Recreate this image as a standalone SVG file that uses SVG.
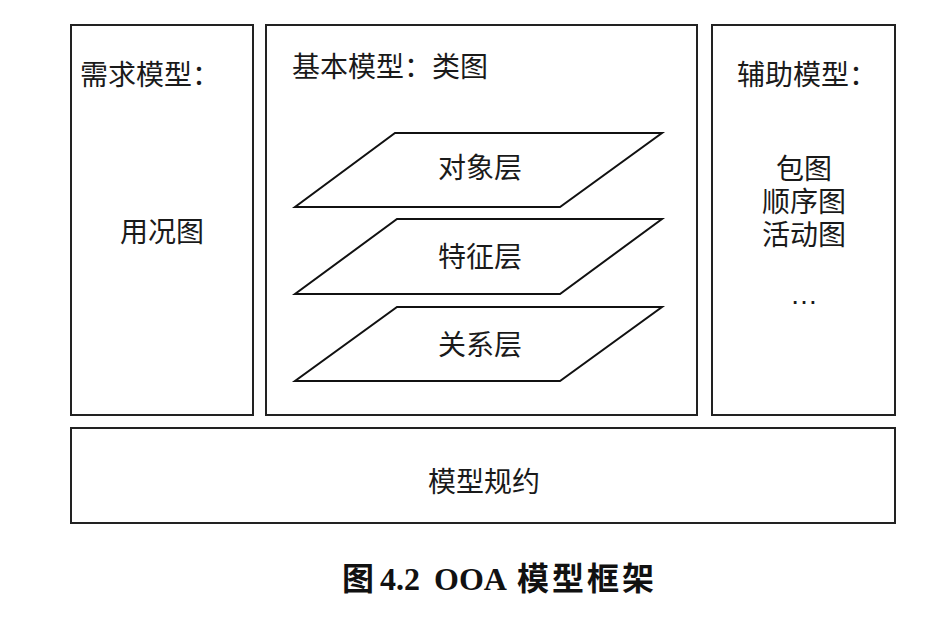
<svg xmlns="http://www.w3.org/2000/svg" width="946" height="621" viewBox="0 0 946 621">
<style>
.box{fill:#fff;stroke:#222;stroke-width:2}
.layer{fill:#fff;stroke:#111;stroke-width:2;stroke-linejoin:miter}
.t{font-family:"Liberation Sans","Noto Sans CJK SC","Noto Sans CJK JP",sans-serif;font-size:28px;fill:#1a1a1a}
.c{text-anchor:middle}
.cap{font-family:"Liberation Serif","Noto Sans CJK SC",serif;font-weight:bold;font-size:32px;fill:#111}
</style>
<rect width="946" height="621" fill="#fff"/>
<g id="req">
<rect class="box" x="71" y="25" width="182" height="390"/>
<text class="t" x="80" y="85">需求模型：</text>
<text class="t c" x="162" y="242">用况图</text>
</g>
<g id="basic">
<rect class="box" x="266" y="25" width="431" height="390"/>
<text class="t" x="292" y="77">基本模型：类图</text>
</g>
<g id="layer-object">
<polygon class="layer" points="395,133 662,133 560,207 295,207"/>
<text class="t c" x="480" y="178">对象层</text>
</g>
<g id="layer-feature">
<polygon class="layer" points="397,219 662,219 560,294 295,294"/>
<text class="t c" x="480" y="267">特征层</text>
</g>
<g id="layer-relation">
<polygon class="layer" points="397,307 662,307 560,381 295,381"/>
<text class="t c" x="480" y="355">关系层</text>
</g>
<g id="aux">
<rect class="box" x="712" y="25" width="183" height="390"/>
<text class="t" x="737" y="85">辅助模型：</text>
<text class="t c" x="804" y="179">包图</text>
<text class="t c" x="804" y="212">顺序图</text>
<text class="t c" x="804" y="245">活动图</text>
<text class="t c" x="804" y="304">…</text>
</g>
<g id="spec">
<rect class="box" x="71" y="428" width="824" height="95"/>
<text class="t c" x="484" y="492">模型规约</text>
</g>
<g id="connectors"></g>
<text class="cap" x="342" y="590"><tspan font-family="Noto Sans CJK SC">图</tspan><tspan x="380">4.2</tspan><tspan x="434">OOA</tspan><tspan x="517" font-family="Noto Sans CJK SC" letter-spacing="3">模型框架</tspan></text>
</svg>
